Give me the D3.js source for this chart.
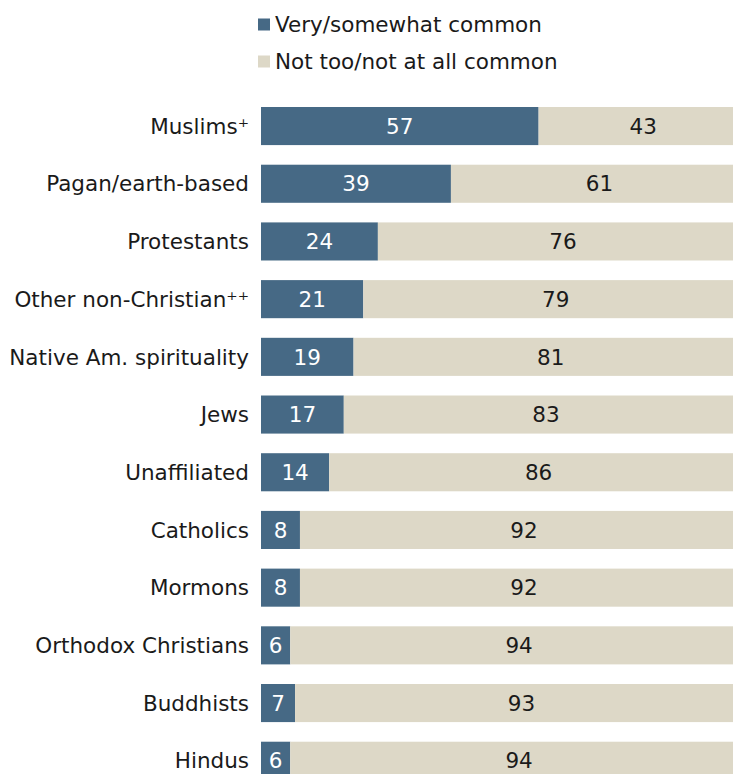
<!DOCTYPE html>
<html>
<head>
<meta charset="utf-8">
<script src="https://cdn.jsdelivr.net/npm/d3@7"></script>
<style>
  html, body { margin: 0; padding: 0; background: #fff; overflow: hidden; }
  svg { display: block; font-family: "DejaVu Sans", Verdana, sans-serif; }
</style>
</head>
<body>
<svg id="chart"></svg>
<script>
// Data
const groups = [
  "Muslims⁺", "Pagan/earth-based", "Protestants", "Other non-Christian⁺⁺",
  "Native Am. spirituality", "Jews", "Unaffiliated", "Catholics",
  "Mormons", "Orthodox Christians", "Buddhists", "Hindus"
];
const common = [57, 39, 24, 21, 19, 17, 14, 8, 8, 6, 7, 6];
const notCommon = [43, 61, 76, 79, 81, 83, 86, 92, 92, 94, 93, 94];
const seriesNames = ["Very/somewhat common", "Not too/not at all common"];

const width = 733, height = 774;
const colors = ["#466985", "#ddd8c7"];
const fontSize = "21.5px";

const svg = d3.select("#chart")
  .attr("width", width)
  .attr("height", height);

const x = d3.scaleLinear([0, 100], [261, 748]);
const y = d3.scaleBand()
  .domain(groups)
  .range([97.2, 97.2 + 12 * 57.7])
  .paddingInner(0.34)
  .paddingOuter(0.17);

const rows = groups.map((g, i) => ({ group: g, values: [common[i], notCommon[i]] }));
const stack = d3.stack().keys([0, 1]);
const layers = stack(rows.map(r => r.values));

// Legend
const legend = svg.append("g");
seriesNames.forEach((name, i) => {
  const item = legend.append("g")
    .attr("transform", `translate(258, ${18.5 + i * 37})`);
  item.append("rect")
    .attr("width", 12)
    .attr("height", 12)
    .attr("fill", colors[i]);
  item.append("text")
    .attr("x", 17)
    .attr("y", 6)
    .attr("dy", "0.36em")
    .attr("fill", "#1a1a1a")
    .style("font-size", fontSize)
    .text(name);
});

// Bars
const layerG = svg.selectAll("g.layer")
  .data(layers)
  .join("g")
  .attr("class", "layer")
  .attr("fill", (d, i) => colors[i]);

layerG.selectAll("rect")
  .data(d => d)
  .join("rect")
  .attr("x", d => x(d[0]))
  .attr("y", (d, i) => y(groups[i]))
  .attr("width", d => x(d[1]) - x(d[0]))
  .attr("height", y.bandwidth());

// Value labels
layerG.selectAll("text")
  .data(d => d)
  .join("text")
  .attr("x", d => (x(d[0]) + x(d[1])) / 2)
  .attr("y", (d, i) => y(groups[i]) + y.bandwidth() / 2)
  .attr("dy", "0.36em")
  .attr("text-anchor", "middle")
  .attr("fill", function () {
    return d3.select(this.parentNode).datum().key === 0 ? "#ffffff" : "#1a1a1a";
  })
  .style("font-size", fontSize)
  .text(d => d[1] - d[0]);

// Category labels
svg.append("g")
  .selectAll("text")
  .data(groups)
  .join("text")
  .attr("x", 249)
  .attr("y", d => y(d) + y.bandwidth() / 2)
  .attr("dy", "0.36em")
  .attr("text-anchor", "end")
  .attr("fill", "#1a1a1a")
  .style("font-size", fontSize)
  .text(d => d);
</script>
</body>
</html>
